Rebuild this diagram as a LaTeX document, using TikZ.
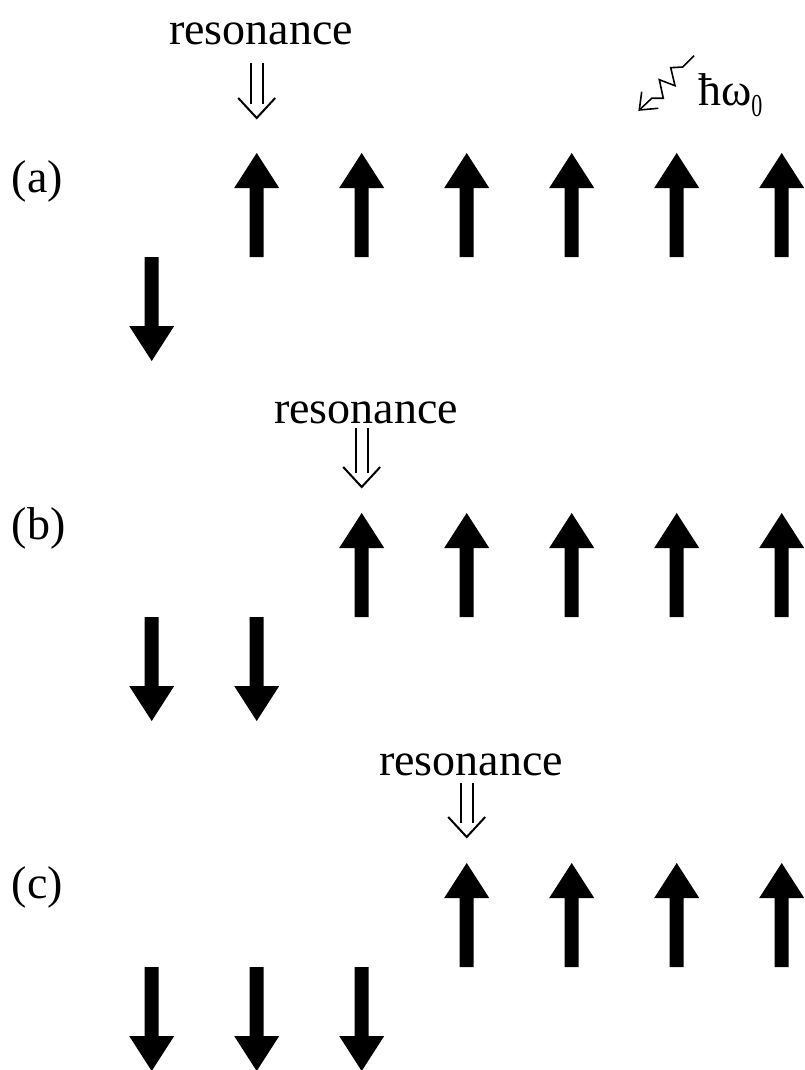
\documentclass[tikz,border=0pt]{standalone}
\usepackage{fontspec}
\setmainfont{Liberation Serif}
\usetikzlibrary{positioning,calc}
\tikzset{font=\fontsize{46}{50}\selectfont}
\tikzset{
	upspin/.pic={\fill (-7,0) -- (-7,69) -- (-22.5,69) -- (0,104) -- (22.5,69) -- (7,69) -- (7,0) -- cycle;},
	downspin/.pic={\fill (-7,0) -- (-7,-69) -- (-22.5,-69) -- (0,-104) -- (22.5,-69) -- (7,-69) -- (7,0) -- cycle;},
	resarrow/.pic={
		\draw (-6,14) -- (-6,#1);
		\draw (6,14) -- (6,#1);
		\draw (-18.5,20) -- (0,0) -- (18.5,20);
	},
}

\begin{document}
\begin{tikzpicture}[x=1pt, y=1pt, line width=2pt]
	\useasboundingbox (0,0) rectangle (805,-1070);
	\begin{scope}
		\tikzstyle{every node}=[inner sep=0pt]
		% row labels
		\node[anchor=west] (laba) at (11,-181) {(a)};
		\node[anchor=west] (labb) at (11,-528) {(b)};
		\node[anchor=west] (labc) at (11,-887) {(c)};

		% resonance markers
		\node[anchor=base] (resa) at (261,-45) {resonance};
		\node[anchor=base] (resb) at (366,-423) {resonance};
		\node[anchor=base] (resc) at (471,-775) {resonance};
		\pic at (256.7,-118) {resarrow=55};
		\pic at (361.7,-487) {resarrow=59};
		\pic at (466.7,-837) {resarrow=54};

		% photon
		\node[anchor=base west] (photon) at (697,-106) {ħω\raisebox{-11pt}{\scalebox{1}[1.45]{\fontsize{22}{22}\selectfont 0}}};
		\coordinate (ph0) at (694,-55.7);
		\coordinate (ph1) at (639.3,-110);
		\draw[line width=1.6pt] (ph0) -- (682.7,-67) -- (670.7,-67.7) -- (675,-85.7) -- (659.3,-79.7)
			-- (663.3,-98.3) -- (651.7,-98.3) -- (ph1);
		\draw[line width=1.6pt] (641.7,-91.7) -- (ph1) -- (658.3,-108.3);
	\end{scope}

	% spins
	\foreach \i in {0,...,5} \pic at (256.7+105*\i,-257) {upspin};
	\pic at (151.7,-257) {downspin};
	\foreach \i in {1,...,5} \pic at (256.7+105*\i,-617) {upspin};
	\foreach \i in {0,1} \pic at (151.7+105*\i,-617) {downspin};
	\foreach \i in {2,...,5} \pic at (256.7+105*\i,-967) {upspin};
	\foreach \i in {0,1,2} \pic at (151.7+105*\i,-967) {downspin};
\end{tikzpicture}
\end{document}
